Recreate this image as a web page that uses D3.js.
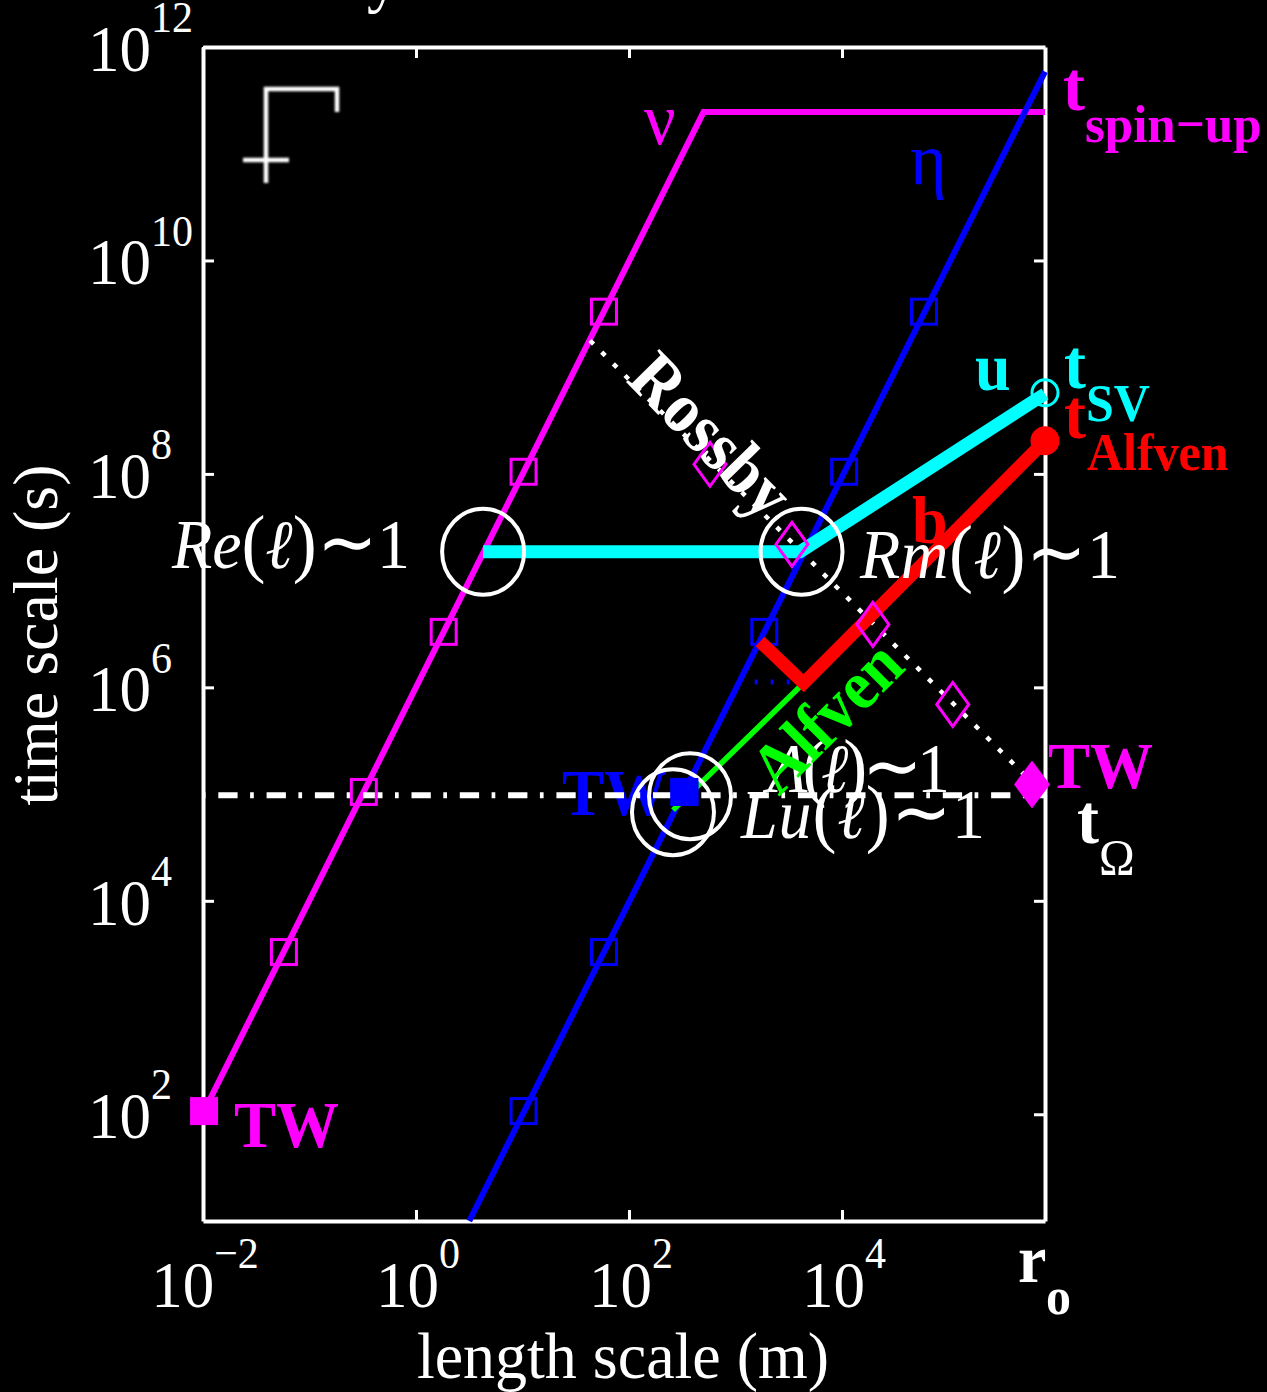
<!DOCTYPE html>
<html><head><meta charset="utf-8">
<script src="https://cdn.jsdelivr.net/npm/d3@7"></script>
<style>html,body{margin:0;background:#000;overflow:hidden}svg{display:block}text{font-family:"Liberation Serif",serif}</style>
</head><body><svg id="c" width="1267" height="1392"></svg>
<script>
// all values are log10 of the quantity
const domainLogLength=[-2,5.906], domainLogTime=[1,12];
const xTickExp=[-2,0,2,4], yTickExp=[2,4,6,8,10,12];
const nuL=[-1.99,2.70,5.906], nuT=[2.03,11.39,11.39];
const etaL=[0.50,5.906], etaT=[1,11.77];
const uL=[0.63,3.606,5.906], uT=[7.27,7.27,8.75];
const bL=[3.23,3.64,5.906], bT=[6.43,6.04,8.31];
const alfvenL=[3.64,2.413], alfvenT=[6.04,4.85];
const rossbyL=[1.634,5.784], rossbyT=[9.25,5.11];
const omegaL=[-2,5.906], omegaT=[4.99,4.99];
const etaDotL=[3.18,3.64], etaDotT=[6.05,6.05];
const nuSqL=[-1.24,-0.49,0.26,1.01,1.765], nuSqT=[3.52,5.02,6.52,8.02,9.52];
const etaSqL=[1.01,1.765,2.52,3.27,4.02,4.77], etaSqT=[2.03,3.52,5.02,6.52,8.02,9.52];
const diaL=[2.76,3.53,4.29,5.04], diaT=[8.09,7.34,6.59,5.84];
const ringL=[0.63,3.62,2.573,2.413], ringT=[7.27,7.27,4.98,4.83];

const svg=d3.select('#c');
svg.append('rect').attr('width',1267).attr('height',1392).attr('fill','#000');
const x=d3.scaleLog().domain(domainLogLength.map(v=>10**v)).range([203,1045]);
const y=d3.scaleLog().domain(domainLogTime.map(v=>10**v)).range([1221,47]);
const X=v=>x(10**v), Y=v=>y(10**v);
const MAG='#ff00ff',BLU='#0000ff',CYA='#00ffff',RED='#ff0000',GRN='#00ff00',WHT='#ffffff';
const line=(L,T)=>d3.line()(L.map((v,i)=>[X(v),Y(T[i])]));
function path(L,T,c,w,dash){const p=svg.append('path').attr('d',line(L,T)).attr('fill','none').attr('stroke',c).attr('stroke-width',w).attr('stroke-linejoin','miter');if(dash)p.attr('stroke-dasharray',dash);return p;}
function txt(s,px,py,size,c,o={}){
  const t=svg.append('text').attr('x',0).attr('y',0).attr('font-size',size).attr('fill',c);
  if(o.bold)t.attr('font-weight','bold'); if(o.italic)t.attr('font-style','italic');
  t.attr('transform',`translate(${px} ${py})`+(o.rotate!=null?` rotate(${o.rotate})`:'')+` scale(1 ${o.sy||1.05})`);
  if(o.len)t.attr('textLength',o.len);
  if(Array.isArray(s)){s.forEach(r=>{const ts=t.append('tspan').attr('font-style',r[1]?'italic':'normal').text(r[0]);if(r[2])ts.attr('font-size',r[2]);});}else t.text(s);
  return t;
}
// clipped letter at the top edge
txt('y',367,0,64,WHT);

// faint emblem
svg.append('defs').append('filter').attr('id','b').append('feGaussianBlur').attr('stdDeviation',0.9);
svg.append('path').attr('d','M337 112V89H266V183M243 160H289').attr('fill','none').attr('stroke','#ffffff').attr('stroke-width',4.5).attr('filter','url(#b)');

// axes
function styleAxis(g){g.selectAll('path.domain').attr('stroke',WHT).attr('stroke-width',4);g.selectAll('.tick line').attr('stroke',WHT).attr('stroke-width',3);g.selectAll('.tick text').remove();}
const xt=xTickExp.map(v=>10**v), yt=yTickExp.map(v=>10**v);
svg.append('g').attr('transform','translate(0,1221)').call(d3.axisBottom(x).tickValues(xt).tickSizeInner(-11).tickSizeOuter(0)).call(styleAxis);
svg.append('g').attr('transform','translate(0,47)').call(d3.axisTop(x).tickValues(xt).tickSizeInner(-11).tickSizeOuter(0)).call(styleAxis);
svg.append('g').attr('transform','translate(203,0)').call(d3.axisLeft(y).tickValues(yt).tickSizeInner(-11).tickSizeOuter(0)).call(styleAxis);
svg.append('g').attr('transform','translate(1045,0)').call(d3.axisRight(y).tickValues(yt).tickSizeInner(-11).tickSizeOuter(0)).call(styleAxis);
xTickExp.forEach(e=>{
  const sup=e<0?'\u2212'+(-e):''+e;
  const t=svg.append('text').attr('transform',`translate(${X(e)+2} 1307) scale(1 1.05)`).attr('text-anchor','middle').attr('font-size',63).attr('fill',WHT);
  t.append('tspan').text('10');
  t.append('tspan').attr('font-size',42).attr('dy',-37).text(sup);
});
yTickExp.forEach(e=>{
  const t=svg.append('text').attr('transform',`translate(88 ${Y(e)+24}) scale(1 1.05)`).attr('font-size',63).attr('fill',WHT);
  t.append('tspan').text('10');
  t.append('tspan').attr('font-size',42).attr('dy',-37).text(e);
});
svg.append('text').attr('transform','translate(57,635) rotate(-90)').attr('text-anchor','middle').attr('font-size',64).attr('fill',WHT).text('time scale (s)');
svg.append('text').attr('transform','translate(623,1378) scale(1 1.04)').attr('text-anchor','middle').attr('font-size',64).attr('fill',WHT).text('length scale (m)');

txt('TW',562,815,63,BLU,{bold:true});
// curves
path(nuL,nuT,MAG,6);
path(etaL,etaT,BLU,6);
path(rossbyL,rossbyT,WHT,4.5,'5 11.5');
path(etaDotL,etaDotT,BLU,5,'3 13');
path(alfvenL,alfvenT,GRN,5.5);
path(omegaL,omegaT,WHT,6,'19.3 12.5 3.7 12.8').attr('stroke-dashoffset',33);
// open squares
function squares(L,T,c){L.forEach((v,i)=>svg.append('rect').attr('x',X(v)-12.5).attr('y',Y(T[i])-12.5).attr('width',25).attr('height',25).attr('fill','none').attr('stroke',c).attr('stroke-width',3));}
squares(nuSqL,nuSqT,MAG);
squares(etaSqL,etaSqT,BLU);
path(uL,uT,CYA,13);
path(bL,bT,RED,13);

// rings
ringL.forEach((v,i)=>svg.append('ellipse').attr('cx',X(v)).attr('cy',Y(ringT[i])).attr('rx',41).attr('ry',43).attr('fill','none').attr('stroke',WHT).attr('stroke-width',4));

// open diamonds
function diamond(px,py,w,h){return `M${px-w} ${py}L${px} ${py-h}L${px+w} ${py}L${px} ${py+h}Z`;}
diaL.forEach((v,i)=>svg.append('path').attr('d',diamond(X(v),Y(diaT[i]),16,22)).attr('fill','none').attr('stroke',MAG).attr('stroke-width',3));
// end markers
svg.append('path').attr('d',diamond(X(5.784),Y(5.09),18,24)).attr('fill',MAG);
svg.append('rect').attr('x',X(2.52)-14).attr('y',Y(5.02)-14).attr('width',28).attr('height',28).attr('fill',BLU);
svg.append('rect').attr('x',X(-1.99)-14).attr('y',Y(2.03)-14).attr('width',28).attr('height',28).attr('fill',MAG);
svg.append('circle').attr('cx',X(5.906)).attr('cy',Y(8.76)).attr('r',13).attr('fill','none').attr('stroke',CYA).attr('stroke-width',3);
svg.append('circle').attr('cx',X(5.906)).attr('cy',Y(8.31)).attr('r',14.5).attr('fill',RED);

// labels
const L='\u2113', T='\u223C';
txt([['R',1],['e',1],['(',0,72],[L,1],[')',0,72],[T,0,72],['1',0]],172,568,66,WHT,{len:238});
txt([['R',1],['m',1],['(',0,72],[L,1],[')',0,72],[T,0,72],['1',0]],860,578,66,WHT,{len:260});
txt([['\u039B',1],['(',0,72],[L,1],[')',0,72],[T,0,72],['1',0]],768,792,66,WHT,{len:182});
txt([['L',1],['u',1],['(',0,72],[L,1],[')',0,72],[T,0,72],['1',0]],741,838,66,WHT,{len:244});
txt('Alfven',779,797,64,GRN,{bold:true,rotate:-45,sy:1.1});
txt('Rossby',625,381,65,WHT,{bold:true,rotate:45.5,sy:1.1});
txt('\u03BD',644,144,70,MAG);
txt('\u03B7',910,184,70,BLU);
txt('t',1063,110,66,MAG,{bold:true});
txt('spin\u2212up',1085,142,51,MAG,{bold:true});
txt('u',975,390,64,CYA,{bold:true});
txt('t',1064,388,66,CYA,{bold:true});
txt('SV',1086,421,50,CYA,{bold:true});
txt('t',1064,438,66,RED,{bold:true});
txt('Alfven',1087,470,50,RED,{bold:true});
txt('b',912,543,64,RED,{bold:true});
txt('TW',234,1147,63,MAG,{bold:true});
txt('TW',1048,788,63,MAG,{bold:true});
txt('t',1077,843,66,WHT,{bold:true});
txt('\u03A9',1099,874,48,WHT);
txt('r',1018,1282,64,WHT,{bold:true});
txt('o',1046,1314,50,WHT,{bold:true});
</script></body></html>
